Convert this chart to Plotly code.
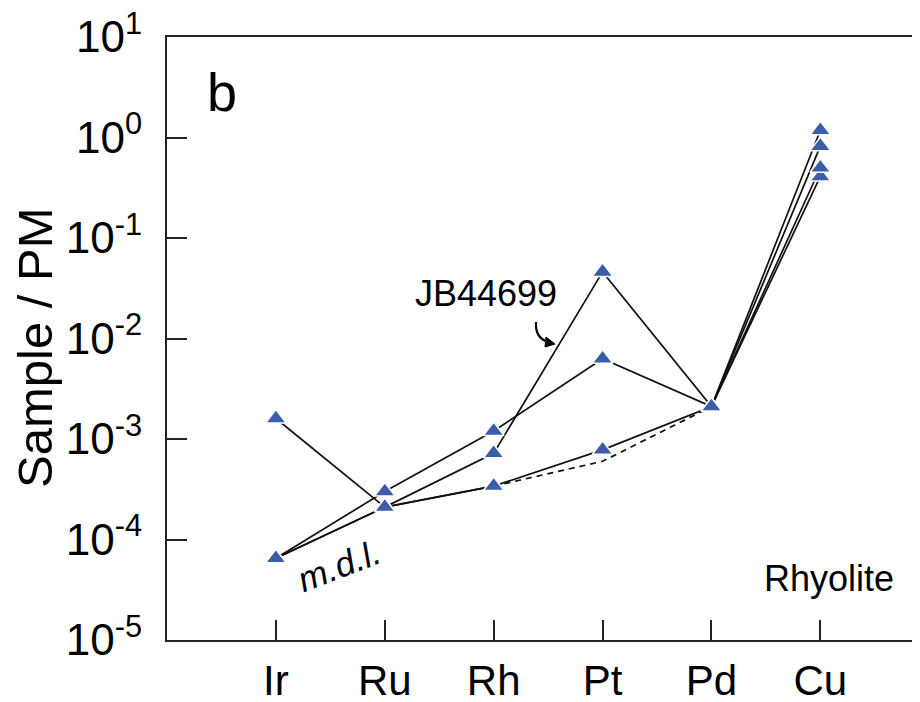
import plotly.graph_objects as go

elements = ["Ir", "Ru", "Rh", "Pt", "Pd", "Cu"]
# Sample/PM values
sample_a = [1.6e-3, 2.1e-4, 3.4e-4, 6.0e-4, 2.1e-3, 0.41]   # Pt below m.d.l. (dashed)
sample_b = [6.5e-5, 3.0e-4, 1.2e-3, 6.3e-3, 2.1e-3, 0.50]
jb44699 = [6.5e-5, 2.1e-4, 7.2e-4, 4.6e-2, 2.1e-3, 1.18]
sample_d = [6.5e-5, 2.1e-4, 3.4e-4, 7.8e-4, 2.1e-3, 0.82]
y_tickvals = [1e-5, 1e-4, 1e-3, 1e-2, 1e-1, 1e0, 1e1]
y_ticktext = ["10<sup>-5</sup>", "10<sup>-4</sup>", "10<sup>-3</sup>", "10<sup>-2</sup>",
              "10<sup>-1</sup>", "10<sup>0</sup>", "10<sup>1</sup>"]

FONT = "Liberation Sans, Arial, sans-serif"
MARK = "#3B5CA8"
xs = list(range(len(elements)))

fig = go.Figure()
line_style = dict(color="#111111", width=1.7)

# solid lines
for s in [sample_b, jb44699, sample_d]:
    fig.add_trace(go.Scatter(x=xs, y=s, mode="lines", line=line_style, hoverinfo="skip"))
# sample A: solid except Rh-Pt-Pd dashed
fig.add_trace(go.Scatter(x=xs[:3], y=sample_a[:3], mode="lines", line=line_style))
fig.add_trace(go.Scatter(x=xs[2:5], y=sample_a[2:5], mode="lines",
                         line=dict(color="#111111", width=1.7, dash="6px,5px")))
fig.add_trace(go.Scatter(x=xs[4:], y=sample_a[4:], mode="lines", line=line_style))

# markers
mx, my = [], []
for s, skip in [(sample_a, {3}), (sample_b, set()), (jb44699, set()), (sample_d, set())]:
    for i, v in enumerate(s):
        if i in skip:
            continue
        mx.append(xs[i]); my.append(v)
fig.add_trace(go.Scatter(x=mx, y=my, mode="markers",
                         marker=dict(symbol="triangle-up", size=18, color=MARK,
                                     line=dict(color="white", width=1.5))))

# page has an 8px body margin: figure drawn at (8, 8)
OFF = 8
W, H = 920 - OFF, 702 - OFF
PL, PT, PB = 167, 37, 640   # plot edges in page pixels
L, T, R = PL - OFF, PT - OFF, 0
B = H - (PB - OFF)
pw, ph = W - L - R, H - T - B

def px(x):
    return (x - OFF - L) / pw

def py(y):
    return (H - B - (y - OFF)) / ph

annotations = [
    dict(text="b", x=px(222), y=py(92), font=dict(size=54)),
    dict(text="JB44699", x=px(486), y=py(293), font=dict(size=36)),
    dict(text="Rhyolite", x=px(829), y=py(578), font=dict(size=36)),
    dict(text="<i>m.d.l.</i>", x=px(339), y=py(565), font=dict(size=35), textangle=-21),
    dict(text="Sample / PM", x=px(35), y=py(348), font=dict(size=49), textangle=-90),
]
for a in annotations:
    a.update(xref="paper", yref="paper", showarrow=False, xanchor="center", yanchor="middle")
    a["font"].update(family=FONT, color="black")

shapes = [
    dict(type="path", xref="paper", yref="paper",
         path=f"M {px(536)},{py(322)} Q {px(535)},{py(338)} {px(548)},{py(342)}",
         line=dict(color="black", width=2.2)),
    dict(type="path", xref="paper", yref="paper",
         path=f"M {px(555)},{py(344)} L {px(546)},{py(337)} L {px(545)},{py(347)} Z",
         fillcolor="black", line=dict(color="black", width=1)),
]

fig.update_layout(
    width=W, height=H,
    margin=dict(l=L, r=R, t=T, b=B, pad=0, autoexpand=False),
    plot_bgcolor="white", paper_bgcolor="white",
    showlegend=False,
    font=dict(family=FONT, color="black"),
    annotations=annotations,
    shapes=shapes,
    xaxis=dict(
        range=[-1, 5.915], tickmode="array", tickvals=xs, ticktext=elements,
        ticks="inside", ticklen=20, tickwidth=2, tickcolor="#222",
        showline=True, linecolor="#222", linewidth=2.2, mirror=True,
        showgrid=False, zeroline=False, automargin=False, ticklabeloverflow="allow",
        tickfont=dict(size=42, family=FONT, color="black"), ticklabelstandoff=2,
    ),
    yaxis=dict(
        type="log", range=[-5, 1], tickmode="array", tickvals=y_tickvals, ticktext=y_ticktext,
        ticks="inside", ticklen=20, tickwidth=2, tickcolor="#222",
        showline=True, linecolor="#222", linewidth=2.2, mirror=False,
        showgrid=False, zeroline=False, automargin=False, ticklabeloverflow="allow",
        tickfont=dict(size=44, family=FONT, color="black"), ticklabelstandoff=14,
    ),
)

fig.write_html("out.html")
